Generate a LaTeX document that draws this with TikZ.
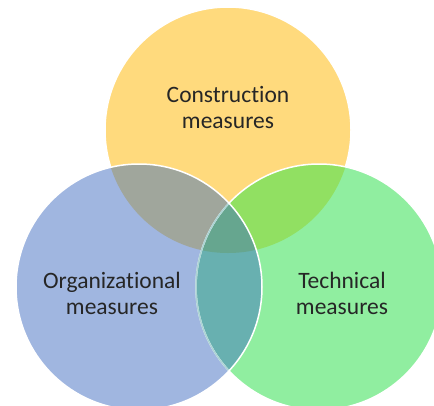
\documentclass[tikz,border=0pt]{standalone}
\usepackage{fontspec}
\setmainfont{Carlito}[Ligatures={NoCommon}]
\usepackage{tikz}
\definecolor{constr}{RGB}{255,218,125}
\definecolor{organ}{RGB}{160,182,224}
\definecolor{techn}{RGB}{144,238,160}
\definecolor{constrorgan}{RGB}{160,166,156}
\definecolor{constrtechn}{RGB}{145,224,98}
\definecolor{organtechn}{RGB}{104,176,176}
\definecolor{allthree}{RGB}{102,166,143}
\tikzset{
  label/.style={align=center,text=black!85,font=\fontsize{23.5}{26}\selectfont},
  rim/.style={draw=white,line width=1.5pt}
}
\def\constrcircle{(228,130) circle (123pt)}
\def\organcircle{(139,287) circle (123pt)}
\def\techncircle{(319,287) circle (123pt)}

\begin{document}
\begin{tikzpicture}[x=1pt,y=-1pt]
    \useasboundingbox (0,0) rectangle (434,405);
    \clip (0,0) rectangle (434,405);

    \filldraw [constr, rim] \constrcircle;
    \fill [techn] \techncircle;
    \fill [organ] \organcircle;

    \begin{scope}
      \clip \constrcircle;
      \fill [constrorgan] \organcircle;
      \fill [constrtechn] \techncircle;
    \end{scope}
    \begin{scope}
      \clip \organcircle;
      \fill [organtechn] \techncircle;
      \clip \constrcircle;
      \fill [allthree] \techncircle;
    \end{scope}

    % rims: blue lies on top, green shows faintly under it
    \draw [rim] \techncircle;
    \begin{scope}
      \clip \organcircle;
      \draw [rim, draw=white!45!organtechn] \techncircle;
    \end{scope}
    \draw [rim] \organcircle;

    \node [label] (C) at (228,107) {Construction\\measures};
    \node [label] (O) at (112,293) {Organizational\\measures};
    \node [label] (T) at (342,293) {Technical\\measures};
  \end{tikzpicture}
\end{document}
